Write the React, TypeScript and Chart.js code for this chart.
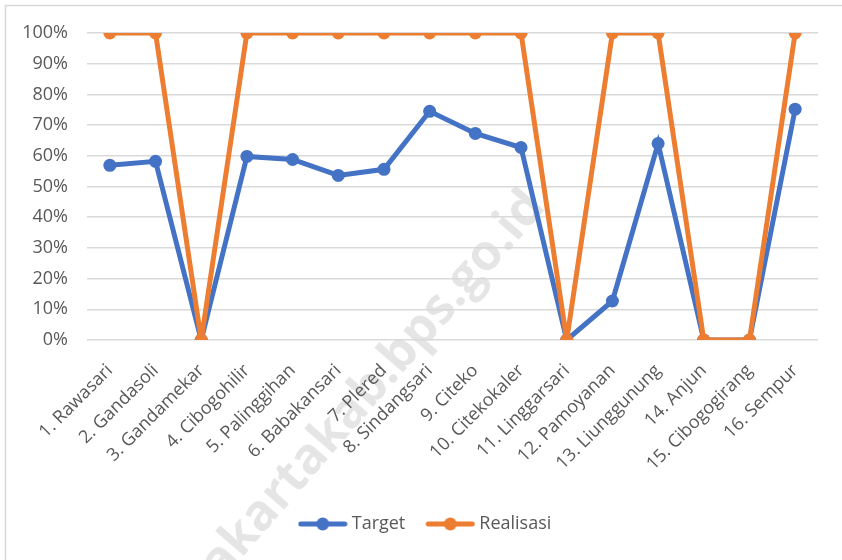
import React, { useEffect, useRef } from "react";
import { Chart, registerables } from "chart.js";

Chart.register(...registerables);

const categories = [
  "1. Rawasari",
  "2. Gandasoli",
  "3. Gandamekar",
  "4. Cibogohilir",
  "5. Palinggihan",
  "6. Babakansari",
  "7. Plered",
  "8. Sindangsari",
  "9. Citeko",
  "10. Citekokaler",
  "11. Linggarsari",
  "12. Pamoyanan",
  "13. Liunggunung",
  "14. Anjun",
  "15. Cibogogirang",
  "16. Sempur",
];

const targetValues = [56.9, 58.2, 0, 59.8, 58.8, 53.6, 55.6, 74.5, 67.3, 62.7, 0, 12.7, 64.0, 0, 0, 75.2];
const realisasiValues = [100, 100, 0, 100, 100, 100, 100, 100, 100, 100, 0, 100, 100, 0, 0, 100];

const seriesNames = ["Target", "Realisasi"];
const seriesColors = ["#4472C4", "#ED7D31"];

const FONT = "'Open Sans', sans-serif";
const TEXT_COLOR = "#595959";

function legendImage(color: string): HTMLCanvasElement {
  const c = document.createElement("canvas");
  c.width = 50;
  c.height = 16;
  const ctx = c.getContext("2d")!;
  ctx.strokeStyle = color;
  ctx.lineWidth = 5;
  ctx.lineCap = "round";
  ctx.beginPath();
  ctx.moveTo(3, 8);
  ctx.lineTo(47, 8);
  ctx.stroke();
  ctx.fillStyle = color;
  ctx.beginPath();
  ctx.arc(25, 8, 6.5, 0, Math.PI * 2);
  ctx.fill();
  return c;
}

const decorPlugin = {
  id: "decor",
  afterLayout(chart: any) {
    if (chart.legend) {
      chart.legend.left += 18;
      chart.legend.right += 18;
    }
  },
  beforeDraw(chart: any) {
    const ctx = chart.ctx;
    ctx.save();
    ctx.fillStyle = "#ffffff";
    ctx.fillRect(0, 0, chart.width, chart.height);
    ctx.strokeStyle = "#D9D9D9";
    ctx.lineWidth = 1.5;
    ctx.strokeRect(5.5, 5.5, chart.width + 20, chart.height + 20);
    // watermark
    ctx.translate(536, 198);
    ctx.rotate((-49 * Math.PI) / 180);
    ctx.font = `bold 50px ${FONT}`;
    ctx.fillStyle = "rgba(0,0,0,0.10)";
    ctx.textAlign = "right";
    ctx.textBaseline = "middle";
    ctx.fillText("purwakartakab.bps.go.id", 0, 0);
    ctx.restore();
  },
};

export default function App() {
  const ref = useRef<HTMLCanvasElement | null>(null);

  useEffect(() => {
    document.body.style.margin = "0";
    const imgs = seriesColors.map((c) => legendImage(c));
    const chart = new Chart(ref.current!, {
      type: "line",
      data: {
        labels: categories,
        datasets: [
          {
            label: seriesNames[0],
            data: targetValues,
            borderColor: seriesColors[0],
            backgroundColor: seriesColors[0],
            borderWidth: 5,
            pointRadius: 6.5,
            pointHoverRadius: 6.5,
            pointBorderWidth: 0,
            tension: 0,
            order: 1,
          },
          {
            label: seriesNames[1],
            data: realisasiValues,
            borderColor: seriesColors[1],
            backgroundColor: seriesColors[1],
            borderWidth: 5,
            pointRadius: 6.5,
            pointHoverRadius: 6.5,
            pointBorderWidth: 0,
            tension: 0,
            order: 0,
          },
        ],
      },
      options: {
        animation: false,
        responsive: false,
        maintainAspectRatio: false,
        layout: { padding: { top: 33, right: 24, left: 0, bottom: 17 } },
        plugins: {
          tooltip: { enabled: false },
          legend: {
            position: "bottom",
            labels: {
              usePointStyle: true,
              pointStyleWidth: 40,
              boxHeight: 16,
              padding: 25,
              color: TEXT_COLOR,
              font: { family: FONT, size: 18 },
              sort: (a: any, b: any) => a.datasetIndex - b.datasetIndex,
              generateLabels(ch: any) {
                const items = Chart.defaults.plugins.legend.labels.generateLabels(ch);
                items.forEach((it: any) => {
                  it.pointStyle = imgs[it.datasetIndex];
                });
                return items;
              },
            },
          },
        },
        scales: {
          x: {
            offset: true,
            grid: { display: false },
            border: { display: false },
            ticks: {
              color: TEXT_COLOR,
              font: { family: FONT, size: 18 },
              maxRotation: 45,
              minRotation: 45,
              autoSkip: false,
              padding: 12,
            },
            afterFit(scale: any) {
              scale.height = 150;
            },
          },
          y: {
            min: 0,
            max: 100,
            grid: { color: "#D9D9D9", lineWidth: 1.5, drawTicks: false },
            border: { display: false },
            ticks: {
              stepSize: 10,
              color: TEXT_COLOR,
              font: { family: FONT, size: 18 },
              padding: 19,
              callback: (v: any) => `${v}%`,
            },
            afterFit(scale: any) {
              scale.width = 87;
            },
          },
        },
      },
      plugins: [decorPlugin],
    } as any);
    return () => chart.destroy();
  }, []);

  return (
    <div style={{ position: "absolute", left: 0, top: 0, width: 842, height: 560 }}>
      <canvas ref={ref} width={842} height={560} style={{ width: 842, height: 560 }} />
    </div>
  );
}
